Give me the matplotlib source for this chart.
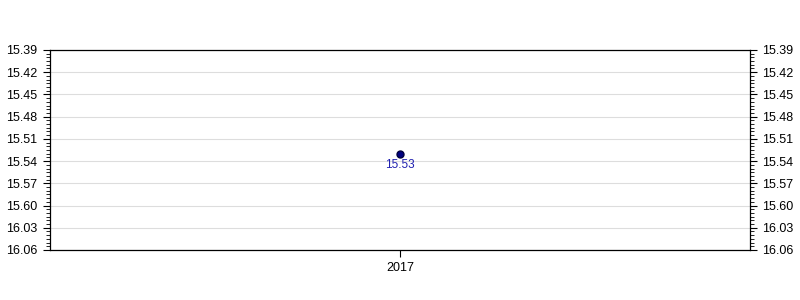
import matplotlib.pyplot as plt
import matplotlib.ticker as ticker

plt.rcParams['font.family'] = ['Liberation Sans', 'DejaVu Sans']

# data: time as minutes.seconds
years = ['2017']
times = ['15.53']
tick_labels = ['15.39', '15.42', '15.45', '15.48', '15.51', '15.54', '15.57', '15.60', '16.03', '16.06']

def to_sec(s):
    m, sec = s.split('.')
    return int(m) * 60 + int(sec)

secs = [to_sec(t) for t in times]
tick_secs = [to_sec(t) for t in tick_labels]

fig = plt.figure(figsize=(8, 3), dpi=100)
ax = fig.add_axes([0.0625, 0.1667, 0.875, 0.6667])

xs = list(range(len(years)))
ax.plot(xs, secs, 'o', color='#000080', markeredgecolor='#000040', markersize=5, zorder=3)
for x, s, t in zip(xs, secs, times):
    ax.annotate(t, (x, s), xytext=(0, -8.5), textcoords='offset points',
                ha='center', va='center', fontsize=8.5, color='#2020b0')

ax.set_xlim(-0.5, 0.5)
ax.set_xticks(xs)
ax.set_xticklabels(years)
ax.set_ylim(tick_secs[-1], tick_secs[0])
ax.set_yticks(tick_secs)
ax.set_yticklabels(tick_labels)
ax.yaxis.set_minor_locator(ticker.AutoMinorLocator(6))
ax.tick_params(axis='y', which='both', left=True, right=True, labelleft=True, labelright=True,
               labelsize=9, direction='out', pad=4)
ax.tick_params(axis='y', which='major', length=5)
ax.tick_params(axis='y', which='minor', length=3)
ax.tick_params(axis='x', labelsize=9, length=5)
ax.grid(True, axis='y', color='#dddddd', linewidth=0.8)
ax.set_axisbelow(True)
for sp in ax.spines.values():
    sp.set_linewidth(0.9)

plt.savefig('out.png', dpi=100)
